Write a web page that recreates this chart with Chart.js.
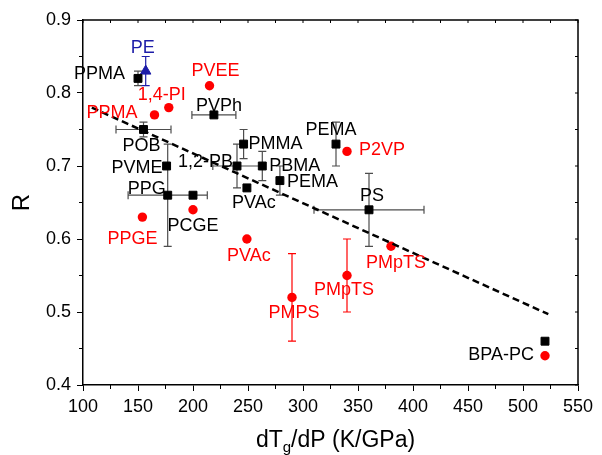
<!DOCTYPE html>
<html>
<head>
<meta charset="utf-8">
<script src="https://cdn.jsdelivr.net/npm/chart.js@4.4.1/dist/chart.umd.min.js"></script>
<style>
  body { margin: 0; background: #fff; }
  #wrap { width: 602px; height: 455px; }
</style>
</head>
<body>
<div id="wrap"><canvas id="scatter-chart" width="602" height="455"></canvas></div>
<script>
// values
var xTicks = [100, 150, 200, 250, 300, 350, 400, 450, 500, 550];
var yTicks = [0.4, 0.5, 0.6, 0.7, 0.8, 0.9];

// black squares
var blackNames = ['PPMA', 'POB', 'PVPh', 'PVME', 'PPG', 'PCGE', '1,2-PB', 'PMMA', 'PBMA', 'PVAc', 'PEMA', 'PEMA', 'PS', 'BPA-PC'];
var blackX = [150, 155, 219, 176, 177, 200, 240, 246, 263, 249, 279, 330, 360, 520];
var blackY = [0.82, 0.75, 0.77, 0.70, 0.66, 0.66, 0.70, 0.73, 0.70, 0.67, 0.68, 0.73, 0.64, 0.46];
var blackXErr = [0, 25, 20, 0, 36, 0, 22, 0, 0, 0, 0, 0, 50, 0];
var blackYErr = [0.01, 0.01, 0, 0, 0.07, 0, 0.03, 0.02, 0.02, 0, 0.02, 0.03, 0.05, 0];

// red circles
var redNames = ['PPMA', '1,4-PI', 'PVEE', 'PPGE', '', 'PVAc', 'PMPS', 'PMpTS', 'P2VP', 'PMpTS', ''];
var redX = [165, 178, 215, 154, 200, 249, 290, 340, 340, 380, 520];
var redY = [0.77, 0.78, 0.81, 0.63, 0.64, 0.60, 0.52, 0.55, 0.72, 0.59, 0.44];
var redYErr = [0, 0, 0, 0, 0, 0, 0.06, 0.05, 0, 0, 0];

// blue triangle
var blueNames = ['PE'];
var blueX = [157];
var blueY = [0.83];
var blueYErr = [0.02];

// dashed trend line end points
var fitX = [108, 523];
var fitY = [0.78, 0.497];

// label placement (pixels from the marker) - style only
var blackLabelPos = [
    ['right', -13, -4], ['center', -2, 17], ['center', 5, -9], ['right', -4, 2],
    ['right', -2, -6], ['center', 0, 31], ['right', -4, -4], ['left', 5, 0],
    ['left', 7, 0], ['center', 7, 15], ['left', 7, 1], ['center', -5, -14],
    ['center', 3, -14], ['right', -11, 14]
];
var redLabelPos = [
    ['right', -17, -2], ['center', -7, -13], ['center', 6, -15], ['center', -10, 22],
    ['center', 0, 0], ['center', 2, 17], ['center', 2, 16], ['center', -3, 15],
    ['left', 12, -1], ['center', 5, 17], ['center', 0, 0]
];
var blueLabelPos = [['center', -3, -23]];

var FONT = '"Liberation Sans", Arial, Helvetica, sans-serif';
var RED = '#ff0000';
var BLUE = '#1c1ca8';

function toPoints(xs, ys) {
    var pts = [];
    for (var i = 0; i < xs.length; i++) pts.push({x: xs[i], y: ys[i]});
    return pts;
}

// error bars, drawn under the markers
var errorBars = {
    id: 'errorBars',
    beforeDatasetsDraw: function (chart) {
        var ctx = chart.ctx;
        var xs = chart.scales.x, ys = chart.scales.y;
        chart.data.datasets.forEach(function (ds) {
            if (!ds.errX && !ds.errY) return;
            ctx.save();
            ctx.strokeStyle = ds.errColor;
            ctx.lineWidth = 1.2;
            ds.data.forEach(function (p, i) {
                var px = xs.getPixelForValue(p.x), py = ys.getPixelForValue(p.y);
                var ex = ds.errX ? ds.errX[i] : 0, ey = ds.errY ? ds.errY[i] : 0;
                ctx.beginPath();
                if (ey) {
                    var t = ys.getPixelForValue(p.y + ey), b = ys.getPixelForValue(p.y - ey);
                    ctx.moveTo(px, t); ctx.lineTo(px, b);
                    ctx.moveTo(px - 4, t); ctx.lineTo(px + 4, t);
                    ctx.moveTo(px - 4, b); ctx.lineTo(px + 4, b);
                }
                if (ex) {
                    var l = xs.getPixelForValue(p.x - ex), r = xs.getPixelForValue(p.x + ex);
                    ctx.moveTo(l, py); ctx.lineTo(r, py);
                    ctx.moveTo(l, py - 4); ctx.lineTo(l, py + 4);
                    ctx.moveTo(r, py - 4); ctx.lineTo(r, py + 4);
                }
                ctx.stroke();
            });
            ctx.restore();
        });
    }
};

// point labels, frame, minor ticks and the x title with subscript
var extras = {
    id: 'extras',
    afterDatasetsDraw: function (chart) {
        var ctx = chart.ctx;
        var xs = chart.scales.x, ys = chart.scales.y;
        ctx.save();
        ctx.font = '18px ' + FONT;
        ctx.textBaseline = 'middle';
        chart.data.datasets.forEach(function (ds) {
            if (!ds.names) return;
            ctx.fillStyle = ds.labelColor;
            ds.data.forEach(function (p, i) {
                if (!ds.names[i]) return;
                var pos = ds.labelPos[i];
                ctx.textAlign = pos[0];
                ctx.fillText(ds.names[i], xs.getPixelForValue(p.x) + pos[1], ys.getPixelForValue(p.y) + pos[2]);
            });
        });
        ctx.restore();
    },
    afterDraw: function (chart) {
        var ctx = chart.ctx, a = chart.chartArea;
        var xs = chart.scales.x, ys = chart.scales.y;
        ctx.save();
        ctx.strokeStyle = '#000';
        ctx.lineWidth = 1.5;
        ctx.beginPath();
        ctx.moveTo(a.left, a.top); ctx.lineTo(a.right, a.top); ctx.lineTo(a.right, a.bottom);
        ctx.stroke();

        ctx.lineWidth = 1;
        ctx.beginPath();
        var v, px, py;
        // x minor ticks outside, all ticks inside at the top
        for (v = 100; v <= 550; v += 25) {
            px = xs.getPixelForValue(v);
            if (v % 50 !== 0) { ctx.moveTo(px, a.bottom); ctx.lineTo(px, a.bottom + 4); }
            ctx.moveTo(px, a.top); ctx.lineTo(px, a.top + 3);
        }
        for (v = 0; v <= 10; v++) {
            py = ys.getPixelForValue(0.4 + v * 0.05);
            if (v % 2 === 1) { ctx.moveTo(a.left, py); ctx.lineTo(a.left - 4, py); }
            ctx.moveTo(a.right, py); ctx.lineTo(a.right - 3, py);
        }
        ctx.stroke();

        // x axis title: dT_g/dP (K/GPa)
        var p1 = 'dT', p2 = 'g', p3 = '/dP (K/GPa)';
        ctx.fillStyle = '#000';
        ctx.textBaseline = 'alphabetic';
        ctx.textAlign = 'left';
        ctx.font = '23px ' + FONT;
        var w1 = ctx.measureText(p1).width, w3 = ctx.measureText(p3).width;
        ctx.font = '15px ' + FONT;
        var w2 = ctx.measureText(p2).width;
        var x0 = (a.left + a.right) / 2 - (w1 + w2 + w3) / 2 + 5;
        var base = 446.5;
        ctx.font = '23px ' + FONT;
        ctx.fillText(p1, x0, base);
        ctx.font = '15px ' + FONT;
        ctx.fillText(p2, x0 + w1, base + 5);
        ctx.font = '23px ' + FONT;
        ctx.fillText(p3, x0 + w1 + w2, base);
        ctx.restore();
    }
};

var scatter_chart = new Chart(document.getElementById('scatter-chart'), {
    type: 'scatter',
    data: {
        datasets: [
            {
                type: 'line',
                data: toPoints(fitX, fitY),
                borderColor: '#000',
                borderWidth: 2.5,
                borderDash: [7, 4],
                pointRadius: 0,
                fill: false
            },
            {
                data: toPoints(blackX, blackY),
                names: blackNames,
                labelPos: blackLabelPos,
                labelColor: '#000',
                errX: blackXErr,
                errY: blackYErr,
                errColor: '#4d4d4d',
                pointStyle: 'rect',
                pointRadius: 5.6,
                backgroundColor: '#000',
                borderColor: '#000',
                borderWidth: 1
            },
            {
                data: toPoints(redX, redY),
                names: redNames,
                labelPos: redLabelPos,
                labelColor: RED,
                errY: redYErr,
                errColor: RED,
                pointStyle: 'circle',
                pointRadius: 4.7,
                backgroundColor: RED,
                borderColor: RED,
                borderWidth: 0
            },
            {
                data: toPoints(blueX, blueY),
                names: blueNames,
                labelPos: blueLabelPos,
                labelColor: BLUE,
                errY: blueYErr,
                errColor: BLUE,
                pointStyle: 'triangle',
                pointRadius: 6,
                backgroundColor: BLUE,
                borderColor: BLUE,
                borderWidth: 1
            }
        ]
    },
    options: {
        responsive: false,
        animation: false,
        events: [],
        layout: { padding: { top: 20, right: 24, left: 0, bottom: 0 } },
        plugins: { legend: { display: false }, tooltip: { enabled: false } },
        scales: {
            x: {
                type: 'linear',
                min: xTicks[0],
                max: xTicks[xTicks.length - 1],
                afterFit: function (s) { s.height = 70; },
                afterBuildTicks: function (s) { s.ticks = xTicks.map(function (v) { return {value: v}; }); },
                border: { display: true, color: '#000', width: 1.5 },
                grid: { display: true, drawOnChartArea: false, drawTicks: true, tickLength: 6, color: '#000', lineWidth: 1 },
                ticks: { color: '#000', padding: 5, maxRotation: 0, font: { family: FONT, size: 18 } },
                title: { display: false }
            },
            y: {
                type: 'linear',
                min: yTicks[0],
                max: yTicks[yTicks.length - 1],
                afterFit: function (s) { s.width = 83; },
                afterBuildTicks: function (s) { s.ticks = yTicks.map(function (v) { return {value: v}; }); },
                border: { display: true, color: '#000', width: 1.5 },
                grid: { display: true, drawOnChartArea: false, drawTicks: true, tickLength: 6, color: '#000', lineWidth: 1 },
                ticks: {
                    color: '#000', padding: 6, font: { family: FONT, size: 18 },
                    callback: function (v) { return v.toFixed(1); }
                },
                title: { display: true, text: 'R', color: '#000', padding: { top: 8, bottom: 0 }, font: { family: FONT, size: 24 } }
            }
        }
    },
    plugins: [errorBars, extras]
});
</script>
</body>
</html>
